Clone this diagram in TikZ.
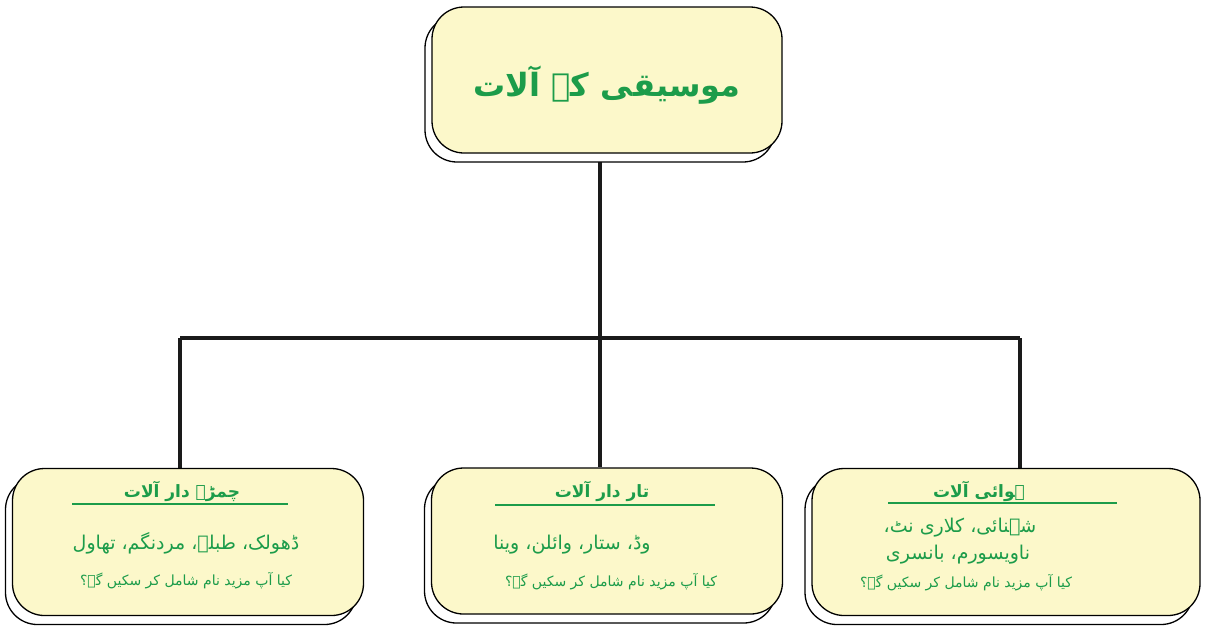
\documentclass[tikz,border=0pt]{standalone}
\usepackage{fontspec}
\usetikzlibrary{shadows,backgrounds}
\TeXXeTstate=1
\newfontfamily\urdu[Script=Arabic]{DejaVu Sans}
\definecolor{boxfill}{RGB}{252,248,202}
\definecolor{urgreen}{RGB}{28,156,74}
\definecolor{linek}{RGB}{26,26,26}
\tikzset{
  box/.style={draw=black, line width=1.3pt, fill=boxfill, rounded corners=32pt,
    inner sep=0pt,
    general shadow={shadow xshift=-7pt, shadow yshift=-9pt, fill=white, draw=black, line width=1.3pt}},
  title/.style={text=urgreen, font=\urdu\bfseries\fontsize{32}{40}\selectfont, inner sep=0pt},
  head/.style={text=urgreen, font=\urdu\bfseries\fontsize{17}{20}\selectfont, inner sep=0pt},
  body/.style={text=urgreen, font=\urdu\fontsize{19}{22}\selectfont, inner sep=0pt},
  ask/.style={text=urgreen, font=\urdu\fontsize{14}{17}\selectfont, inner sep=0pt},
  rule/.style={draw=urgreen, line width=1.6pt},
  conn/.style={draw=linek, line width=3.8pt}
}
\begin{document}
\begin{tikzpicture}[x=1pt,y=-1pt]
\useasboundingbox (0,0) rectangle (1206,625);
% boxes
\node[box, minimum width=350pt, minimum height=146pt] (top) at (607,80) {};
\node[box, minimum width=351pt, minimum height=147pt] (left) at (188,542) {};
\node[box, minimum width=351pt, minimum height=146pt] (mid) at (607,541) {};
\node[box, minimum width=388pt, minimum height=147pt] (right) at (1006,542) {};
% texts
\node[title] (t0) at (607,85) {\beginR موسیقی کے آلات\endR};
\node[head] (l1) at (182,491) {\beginR چمڑے دار آلات\endR};
\node[body] (l2) at (186,543) {\beginR ڈھولک، طبلہ، مردنگم، تھاول\endR};
\node[ask] (l3) at (186,581) {\beginR کیا آپ مزید نام شامل کر سکیں گے؟\endR};
\node[head] (m1) at (602,491) {\beginR تار دار آلات\endR};
\node[body] (m2) at (572,545) {\beginR وڈ، ستار، وائلن، وینا\endR};
\node[ask] (m3) at (611,582) {\beginR کیا آپ مزید نام شامل کر سکیں گے؟\endR};
\node[head] (r1) at (979,491) {\beginR ہوائی آلات\endR};
\node[body] (r2) at (960,528) {\beginR شہنائی، کلاری نٹ،\endR};
\node[body] (r3) at (958,555) {\beginR ناویسورم، بانسری\endR};
\node[ask] (r4) at (966,583) {\beginR کیا آپ مزید نام شامل کر سکیں گے؟\endR};
% underlines
\path[rule] (72,504) -- (288,504);
\path[rule] (495,505) -- (715,505);
\path[rule] (888,503) -- (1117,503);
% connectors
\coordinate (j) at (600,338);
\coordinate (jl) at (180,338);
\coordinate (jr) at (1020,338);
\begin{scope}[on background layer]
\path[conn] (j |- top.south) -- (j);
\path[conn] (jl) -- (jr);
\path[conn] (jl) -- (jl |- left.north);
\path[conn] (j) -- (j |- mid.north);
\path[conn] (jr) -- (jr |- right.north);
\end{scope}
\end{tikzpicture}
\end{document}
